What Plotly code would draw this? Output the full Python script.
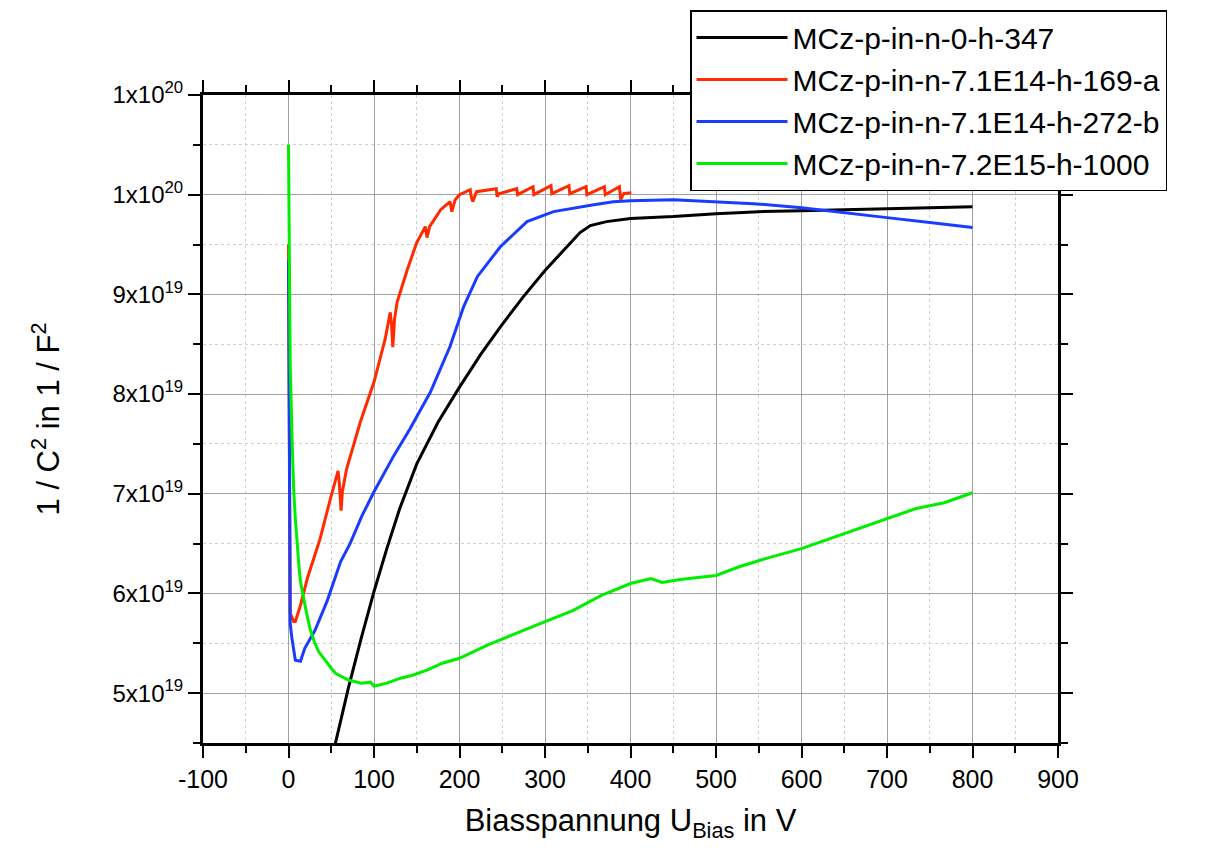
import plotly.graph_objects as go

# ---------------- data (V, 1/C^2 in units of 1e19 F^-2) ----------------
black_v = [50, 55, 70, 85, 100, 115, 130, 150, 175, 200, 225, 250, 275, 300, 325,
           341, 353, 372, 400, 450, 500, 550, 600, 650, 700, 750, 800]
black_y = [4.32, 4.50, 5.05, 5.55, 6.02, 6.45, 6.85, 7.30, 7.72, 8.07, 8.40, 8.70,
           8.98, 9.24, 9.47, 9.62, 9.69, 9.73, 9.76, 9.78, 9.81, 9.83, 9.84, 9.85,
           9.86, 9.87, 9.88]

red_v = [0, 1, 2, 4, 6, 8, 10, 14, 22, 31, 37, 49, 58, 59.5, 61.5, 63, 68, 84, 100,
         113, 119, 120.5, 122, 124, 127, 139, 150, 160, 161, 162, 165, 178, 189, 190,
         191, 195, 200, 212.5, 213.5, 215.5, 220, 243, 244, 246, 267, 268, 286, 287,
         307, 308, 328, 329, 348, 349, 369.5, 370.5, 387, 388.5, 392, 401]
red_y = [9.50, 7.00, 5.80, 5.76, 5.72, 5.72, 5.77, 5.88, 6.15, 6.38, 6.55, 6.95,
         7.23, 7.10, 6.83, 7.02, 7.25, 7.72, 8.12, 8.55, 8.82, 8.70, 8.47, 8.75, 8.92,
         9.25, 9.52, 9.68, 9.62, 9.57, 9.68, 9.85, 9.93, 9.86, 9.83, 9.95, 10.00,
         10.05, 9.99, 9.93, 10.03, 10.06, 9.98, 10.01, 10.06, 10.00, 10.08, 10.00,
         10.09, 10.01, 10.09, 10.01, 10.08, 10.00, 10.08, 10.00, 10.08, 9.95, 10.01,
         10.02]

blue_v = [0, 1, 2, 4, 8, 14, 19, 31, 45, 61, 72, 86, 100, 123, 142, 166, 189, 205,
          221, 248, 279, 310, 341, 357, 380, 400, 450, 497, 544, 600, 653, 700, 750,
          800]
blue_y = [9.35, 7.50, 5.70, 5.55, 5.33, 5.32, 5.45, 5.63, 5.92, 6.32, 6.50, 6.78,
          7.02, 7.38, 7.65, 8.02, 8.48, 8.88, 9.18, 9.48, 9.73, 9.83, 9.88, 9.90,
          9.93, 9.94, 9.95, 9.93, 9.91, 9.87, 9.82, 9.77, 9.72, 9.67]

green_v = [0, 0.5, 1, 2, 4, 6, 8, 10, 12, 14, 17, 20, 25, 30, 35, 40, 45, 50, 55,
           61, 70, 76, 85, 96, 100, 105, 115, 131, 145, 162, 180, 200, 232, 266, 300,
           333, 366, 400, 424, 437, 458, 500, 528, 562, 600, 633, 666, 700, 733, 767,
           800]
green_y = [10.50, 9.80, 9.00, 8.30, 7.60, 7.05, 6.75, 6.50, 6.30, 6.12, 5.98, 5.85,
           5.65, 5.52, 5.42, 5.36, 5.30, 5.25, 5.20, 5.17, 5.13, 5.12, 5.10, 5.11,
           5.07, 5.08, 5.10, 5.15, 5.18, 5.23, 5.30, 5.35, 5.48, 5.60, 5.72, 5.83,
           5.98, 6.10, 6.15, 6.11, 6.14, 6.18, 6.27, 6.36, 6.45, 6.55, 6.65, 6.75,
           6.85, 6.91, 7.01]

names = ["MCz-p-in-n-0-h-347", "MCz-p-in-n-7.1E14-h-169-a",
         "MCz-p-in-n-7.1E14-h-272-b", "MCz-p-in-n-7.2E15-h-1000"]
colors = ["#000000", "#ff2a00", "#1a3cff", "#00ee00"]

y_tickvals = [5e19, 6e19, 7e19, 8e19, 9e19, 1e20, 1.1e20]
y_ticktext = ["5x10<sup>19</sup>", "6x10<sup>19</sup>", "7x10<sup>19</sup>",
              "8x10<sup>19</sup>", "9x10<sup>19</sup>", "1x10<sup>20</sup>",
              "1x10<sup>20</sup>"]
x_tickvals = [-100, 0, 100, 200, 300, 400, 500, 600, 700, 800, 900]
x_ticktext = ["-100", "0", "100", "200", "300", "400", "500", "600", "700", "800", "900"]

FONT = "Liberation Sans, Arial, sans-serif"

# ---------------- figure ----------------
fig = go.Figure()
series = [(black_v, black_y), (red_v, red_y), (blue_v, blue_y), (green_v, green_y)]
for (xv, yv), nm, c in zip(series, names, colors):
    fig.add_trace(go.Scatter(x=xv, y=[v * 1e19 for v in yv], mode="lines", name=nm,
                             line=dict(color=c, width=3)))

axis_common = dict(
    showline=True, linecolor="black", linewidth=3, mirror="ticks",
    ticks="outside", ticklen=12, tickwidth=2, tickcolor="black",
    showgrid=True, gridcolor="#a0a0a0", gridwidth=1, zeroline=False,
)

fig.update_xaxes(
    range=[-100, 900], tickmode="array", tickvals=x_tickvals, ticktext=x_ticktext,
    tickfont=dict(family=FONT, size=25, color="black"),
    title=dict(text="Biasspannung U<sub>Bias</sub> in V", standoff=18,
               font=dict(family=FONT, size=31, color="black")),
    minor=dict(dtick=50, tick0=0, ticks="outside", ticklen=7, tickwidth=2, tickcolor="black",
               showgrid=True, gridcolor="#d0d0d0", griddash="dot", gridwidth=1),
    **axis_common,
)
fig.update_yaxes(
    range=[4.5e19, 1.1e20], tickmode="array", tickvals=y_tickvals, ticktext=y_ticktext,
    tickfont=dict(family=FONT, size=24, color="black"),
    title=dict(text="1 / C<sup>2</sup> in 1 / F<sup>2</sup>", standoff=44,
               font=dict(family=FONT, size=31, color="black")),
    minor=dict(dtick=5e18, tick0=0, ticks="outside", ticklen=7, tickwidth=2, tickcolor="black",
               showgrid=True, gridcolor="#d0d0d0", griddash="dot", gridwidth=1),
    **axis_common,
)

fig.update_layout(
    width=1206, height=851,
    margin=dict(l=195, r=156, t=87, b=116, autoexpand=False),
    paper_bgcolor="white", plot_bgcolor="white",
    showlegend=True,
    legend=dict(x=0.5696, y=1.131, xanchor="left", yanchor="top",
                bgcolor="white", bordercolor="black", borderwidth=1.5,
                font=dict(family=FONT, size=30, color="black"),
                itemwidth=91, tracegroupgap=0),
)

fig.write_html("out.html")
